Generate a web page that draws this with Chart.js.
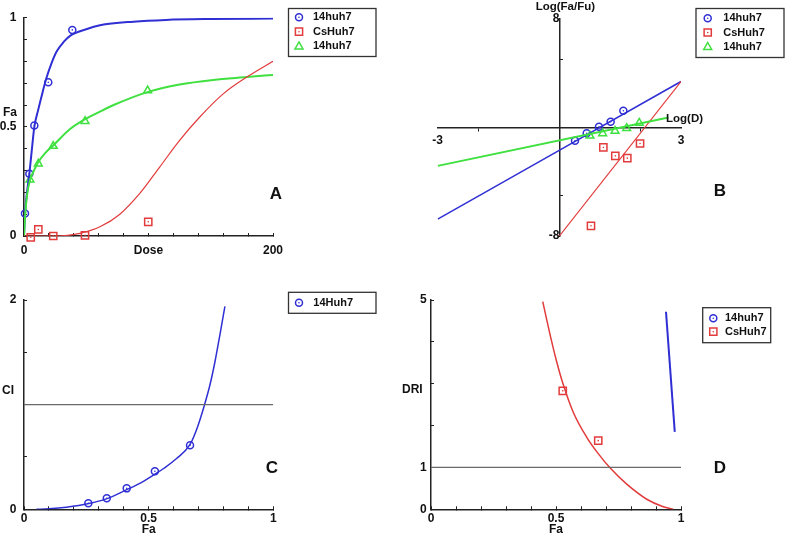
<!DOCTYPE html>
<html lang="en">
<head>
<meta charset="UTF-8">
<title>Dose effect analysis</title>
<style>
body { margin:0; background:#fff; }
#wrap { position:relative; width:795px; height:540px; overflow:hidden; background:#fff; }
canvas { position:absolute; }
</style>
</head>
<body>
<div id="wrap">
<canvas id="pA" width="395" height="270" style="left:0;top:0"></canvas>
<canvas id="pB" width="400" height="270" style="left:395px;top:0"></canvas>
<canvas id="pC" width="395" height="270" style="left:0;top:270px"></canvas>
<canvas id="pD" width="400" height="270" style="left:395px;top:270px"></canvas>
</div>
<script src="https://cdn.jsdelivr.net/npm/chart.js"></script>
<script>
// ---- panel A : dose vs Fa ----
const doseBlue = [0.8, 4.3, 8.3, 19.5, 38.8];
const faBlue = [0.103, 0.285, 0.506, 0.704, 0.944];
const doseRed = [5.4, 11.5, 23.5, 49, 99.8];
const faRed = [-0.006, 0.03, 0.0, 0.003, 0.065];
const doseGreen = [4.8, 11.5, 23.5, 49, 99.3];
const faGreen = [0.258, 0.331, 0.412, 0.526, 0.666];
const fitBlueX = [0, 0.8, 2, 4.3, 6.2, 8.3, 11.5, 15, 18.2, 22, 26.2, 32, 37, 50, 61, 88, 114, 150, 200];
const fitBlueY = [0, 0.1, 0.18, 0.285, 0.39, 0.5, 0.58, 0.66, 0.727, 0.79, 0.845, 0.89, 0.917, 0.947, 0.965, 0.982, 0.99, 0.994, 0.996];
const fitGreenX = [0, 1, 2.5, 4.8, 8, 11.5, 17, 23.5, 37, 49, 61, 72, 98.5, 125, 152, 179, 200];
const fitGreenY = [0, 0.1, 0.19, 0.255, 0.3, 0.339, 0.38, 0.415, 0.49, 0.535, 0.57, 0.6, 0.658, 0.694, 0.715, 0.728, 0.738];
const fitRedX = [0, 25, 35, 45, 61, 77, 93, 109, 125, 141, 160, 179, 200];
const fitRedY = [0, 0, 0.003, 0.012, 0.042, 0.1, 0.195, 0.316, 0.438, 0.544, 0.651, 0.728, 0.8];

// ---- panel B : median effect plot ----
const logDBlue = [0.386, 0.674, 0.978, 1.265, 1.578];
const logFBlue = [-0.98, -0.42, 0.05, 0.42, 1.23];
const logDRed = [0.78, 1.085, 1.38, 1.676, 1.99];
const logFRed = [-7.25, -1.47, -2.09, -2.26, -1.18];
const logDGreen = [0.756, 1.068, 1.372, 1.66, 1.97];
const logFGreen = [-0.61, -0.44, -0.25, -0.05, 0.34];
const lineBlueX = [-3, 3], lineBlueY = [-6.76, 3.39];
const lineRedX = [0, 3], lineRedY = [-8, 3.39];
const lineGreenX = [-3, 2.69], lineGreenY = [-2.83, 0.74];

// ---- panel C : Fa vs CI ----
const faC = [0.258, 0.332, 0.412, 0.525, 0.666];
const ciC = [0.057, 0.105, 0.2, 0.363, 0.612];
const ciCurveX = [0.05, 0.1, 0.17, 0.26, 0.33, 0.41, 0.47, 0.525, 0.56, 0.612, 0.666, 0.695, 0.723, 0.746, 0.766, 0.786, 0.806];
const ciCurveY = [0, 0.005, 0.02, 0.055, 0.1, 0.185, 0.255, 0.335, 0.39, 0.485, 0.62, 0.78, 0.99, 1.19, 1.41, 1.67, 1.94];

// ---- panel D : Fa vs DRI ----
const faD = [0.527, 0.669];
const driD = [2.83, 1.64];
const driRedX = [0.447, 0.476, 0.503, 0.529, 0.569, 0.623, 0.669, 0.716, 0.783, 0.863, 0.929, 0.969];
const driRedY = [4.96, 4.18, 3.52, 2.98, 2.32, 1.72, 1.33, 0.99, 0.6, 0.24, 0.06, 0];
const driBlueX = [0.94, 0.975], driBlueY = [4.72, 1.85];

const refX = [0, 1], refY = [1, 1];

const BLUE = '#2f2fd4', RED = '#e23b3b', GREEN = '#3fe03f', GRAY = '#6a6a6a', AXIS = '#222';
const FONT = '"Liberation Sans", Arial, sans-serif';

Chart.defaults.font.family = FONT;
Chart.defaults.font.size = 12;
Chart.defaults.font.weight = 'bold';
Chart.defaults.color = '#111';

const pts = (xs, ys) => xs.map((x, i) => ({x: x, y: ys[i]}));

function marks(xs, ys, color, style, r) {
  return {data: pts(xs, ys), showLine: false, pointStyle: style, pointRadius: r,
    borderColor: color, backgroundColor: 'rgba(0,0,0,0)', pointBorderWidth: 1.5, clip: false};
}
function dots(xs, ys, color) {
  return {data: pts(xs, ys), showLine: false, pointStyle: 'circle', pointRadius: 0.8,
    borderColor: color, backgroundColor: color, pointBorderWidth: 0, clip: false};
}
function curve(xs, ys, color, w) {
  return {data: pts(xs, ys), showLine: true, pointRadius: 0, borderColor: color,
    borderWidth: w, cubicInterpolationMode: 'monotone', fill: false};
}

function drawMarker(ctx, style, x, y, color) {
  ctx.strokeStyle = color; ctx.fillStyle = color; ctx.lineWidth = 1.5;
  ctx.beginPath();
  if (style === 'circle') ctx.arc(x, y, 3.5, 0, Math.PI * 2);
  else if (style === 'rect') ctx.rect(x - 3.6, y - 3.6, 7.2, 7.2);
  else { ctx.moveTo(x, y - 4.2); ctx.lineTo(x + 4, y + 2.8); ctx.lineTo(x - 4, y + 2.8); ctx.closePath(); }
  ctx.stroke();
  if (style !== 'triangle') { ctx.beginPath(); ctx.arc(x, y, 0.8, 0, Math.PI * 2); ctx.fill(); }
}

function legend(ctx, box, items) {
  ctx.save();
  ctx.lineWidth = 1.3; ctx.strokeStyle = '#333';
  ctx.strokeRect(box.x, box.y, box.w, box.h);
  ctx.font = 'bold 11px ' + FONT; ctx.textBaseline = 'middle'; ctx.textAlign = 'left';
  items.forEach((it, i) => {
    const y = box.row0 + i * box.dy;
    drawMarker(ctx, it[1], box.mx, y, it[2]);
    ctx.fillStyle = '#111';
    ctx.fillText(it[0], box.tx, y);
  });
  ctx.restore();
}

function label(ctx, s, x, y, size, align) {
  ctx.save();
  ctx.font = 'bold ' + size + 'px ' + FONT;
  ctx.textAlign = align || 'left'; ctx.textBaseline = 'middle'; ctx.fillStyle = '#111';
  ctx.fillText(s, x, y);
  ctx.restore();
}

const near = (v, t) => Math.abs(v - t) < 1e-6;

function edgeAxis(min, max, step, size, tl, pad, labels, isX, font) {
  return {
    type: 'linear', min: min, max: max,
    afterFit: s => { if (isX) s.height = size; else s.width = size; },
    border: {color: AXIS, width: 1.5},
    grid: {drawOnChartArea: false, tickLength: tl, color: AXIS, lineWidth: 1},
    ticks: {stepSize: step, autoSkip: false, maxRotation: 0, padding: pad, font: font,
      callback: v => { for (const k in labels) { if (near(v, +k)) return labels[k]; } return ''; }}
  };
}

function baseOpts(padding, scales) {
  return {
    responsive: false, animation: false, devicePixelRatio: 1, events: [],
    layout: {padding: padding},
    plugins: {legend: {display: false}, tooltip: {enabled: false}},
    scales: scales
  };
}

// Panel A
new Chart(document.getElementById('pA'), {
  type: 'scatter',
  data: {datasets: [
    curve(fitRedX, fitRedY, RED, 1.2),
    curve(fitGreenX, fitGreenY, GREEN, 2),
    curve(fitBlueX, fitBlueY, BLUE, 2),
    marks(doseRed, faRed, RED, 'rect', 5.1), dots(doseRed, faRed, RED),
    marks(doseGreen, faGreen, GREEN, 'triangle', 4.5),
    marks(doseBlue, faBlue, BLUE, 'circle', 3.5), dots(doseBlue, faBlue, BLUE)
  ]},
  options: baseOpts({left: 0, right: 122, top: 17, bottom: 4}, {
    x: edgeAxis(0, 200, 20, 30, -3, 10.8, {0: '0', 100: 'Dose', 200: '200'}, true),
    y: edgeAxis(0, 1, 0.1, 24, -3, 10.5, {0: '0', 0.5: '0.5', 1: '1'}, false)
  }),
  plugins: [{id: 'decoA', afterDraw(chart) {
    const ctx = chart.ctx;
    label(ctx, 'Fa', 3, 112.5, 12);
    label(ctx, 'A', 276, 194, 17, 'center');
    legend(ctx, {x: 288.5, y: 8.5, w: 87.5, h: 48, row0: 17.3, dy: 14.4, mx: 299, tx: 313},
      [['14huh7', 'circle', BLUE], ['CsHuh7', 'rect', RED], ['14huh7', 'triangle', GREEN]]);
  }}]
});

// Panel B
const hideEnds = (lim) => (c) => (c.tick && near(Math.abs(c.tick.value), lim)) ? 'rgba(0,0,0,0)' : AXIS;
new Chart(document.getElementById('pB'), {
  type: 'scatter',
  data: {datasets: [
    curve(lineGreenX, lineGreenY, GREEN, 2),
    curve(lineRedX, lineRedY, RED, 1.2),
    curve(lineBlueX, lineBlueY, BLUE, 1.5),
    marks(logDRed, logFRed, RED, 'rect', 5.1), dots(logDRed, logFRed, RED),
    marks(logDGreen, logFGreen, GREEN, 'triangle', 4.5),
    marks(logDBlue, logFBlue, BLUE, 'circle', 3.5), dots(logDBlue, logFBlue, BLUE)
  ]},
  options: baseOpts({left: 42.7, right: 114, top: 19, bottom: 34}, {
    x: {type: 'linear', min: -3, max: 3, position: {y: 0},
      afterBuildTicks: s => { s.ticks = [-3, -2, 2, 3].map(v => ({value: v})); },
      border: {color: AXIS, width: 1.5},
      grid: {drawOnChartArea: false, tickLength: 3, color: AXIS, tickColor: hideEnds(3)},
      ticks: {padding: 3, autoSkip: false, maxRotation: 0,
        callback: v => (near(Math.abs(v), 3) ? String(v) : '')}},
    y: {type: 'linear', min: -8, max: 8, position: {x: 0},
      afterBuildTicks: s => { s.ticks = [-8, -5, 5, 8].map(v => ({value: v})); },
      border: {color: AXIS, width: 1.5},
      grid: {drawOnChartArea: false, tickLength: -4, color: AXIS, tickColor: hideEnds(8)},
      ticks: {padding: 8, autoSkip: false,
        callback: v => (near(Math.abs(v), 8) ? String(v) : '')}}
  }),
  plugins: [{id: 'decoB', afterDraw(chart) {
    const ctx = chart.ctx;
    const xs = chart.scales.x, ys = chart.scales.y;
    label(ctx, 'Log(Fa/Fu)', xs.getPixelForValue(0) + 6, 6.7, 11.5, 'center');
    label(ctx, 'Log(D)', xs.getPixelForValue(3) + 3.5, ys.getPixelForValue(0) - 8.5, 11.5, 'center');
    label(ctx, 'B', 325, 191, 17, 'center');
    legend(ctx, {x: 301, y: 8.5, w: 88, h: 49, row0: 18.3, dy: 14.2, mx: 312.7, tx: 328.3},
      [['14huh7', 'circle', BLUE], ['CsHuh7', 'rect', RED], ['14huh7', 'triangle', GREEN]]);
  }}]
});

// Panel C
new Chart(document.getElementById('pC'), {
  type: 'scatter',
  data: {datasets: [
    curve(refX, refY, GRAY, 1.2),
    curve(ciCurveX, ciCurveY, BLUE, 1.5),
    marks(faC, ciC, BLUE, 'circle', 3.5), dots(faC, ciC, BLUE)
  ]},
  options: baseOpts({left: 0, right: 121.7, top: 30, bottom: 4.7}, {
    x: edgeAxis(0, 1, 0.1, 26, -3, 7.4, {0: '0', 0.5: ['0.5', 'Fa'], 1: '1'}, true, {size: 12, lineHeight: 0.88}),
    y: edgeAxis(0, 2, 0.5, 24, -3, 10.5, {0: '0', 2: '2'}, false)
  }),
  plugins: [{id: 'decoC', afterDraw(chart) {
    const ctx = chart.ctx;
    label(ctx, 'CI', 2, 121, 12);
    label(ctx, 'C', 272, 198, 17, 'center');
    legend(ctx, {x: 288.5, y: 22.3, w: 87.5, h: 21, row0: 32.7, dy: 14, mx: 299, tx: 313.3},
      [['14Huh7', 'circle', BLUE]]);
  }}]
});

// Panel D
new Chart(document.getElementById('pD'), {
  type: 'scatter',
  data: {datasets: [
    curve(refX, refY, GRAY, 1.2),
    curve(driRedX, driRedY, RED, 1.5),
    curve(driBlueX, driBlueY, BLUE, 2),
    marks(faD, driD, RED, 'rect', 5.1), dots(faD, driD, RED)
  ]},
  options: baseOpts({left: 0, right: 114, top: 30, bottom: 4.7}, {
    x: edgeAxis(0, 1, 0.1, 26, -3, 7.4, {0: '0', 0.5: ['0.5', 'Fa'], 1: '1'}, true, {size: 12, lineHeight: 0.88}),
    y: edgeAxis(0, 5, 1, 36, -3, 7.3, {0: '0', 1: '1', 5: '5'}, false)
  }),
  plugins: [{id: 'decoD', afterDraw(chart) {
    const ctx = chart.ctx;
    label(ctx, 'DRI', 27.7, 120, 12, 'right');
    label(ctx, 'D', 325, 198, 17, 'center');
    legend(ctx, {x: 307.7, y: 37.7, w: 68, h: 35, row0: 48.3, dy: 13.4, mx: 318.3, tx: 330},
      [['14huh7', 'circle', BLUE], ['CsHuh7', 'rect', RED]]);
  }}]
});
</script>
</body>
</html>
